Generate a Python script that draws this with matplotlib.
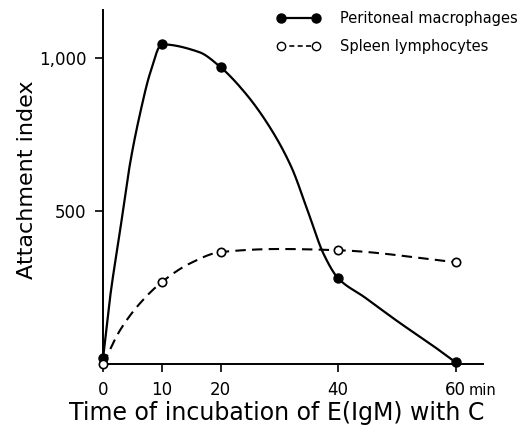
import numpy as np
import matplotlib
matplotlib.use("Agg")
import matplotlib.pyplot as plt
from matplotlib.lines import Line2D

# measured points
t = [0, 10, 20, 40, 60]
macro = [20, 1045, 970, 280, 5]
spleen = [0, 268, 366, 372, 333]

macro_tx = [0, 1.2, 2.9, 4.6, 6.3, 8.0, 10, 16.3, 20, 24, 28, 32, 35,
            37.5, 40, 44.5, 50.2, 55.8, 60]
macro_ty = [20, 220, 438, 657, 820, 951, 1045, 1020, 970, 890, 785, 645, 490,
            360, 280, 218, 138, 64, 5]
spleen_tx = [0, 2.9, 6.3, 10, 14.8, 20, 30, 40, 60]
spleen_ty = [0, 111, 199, 268, 329, 366, 376, 372, 333]


def smooth(x, y, n=30):
    # monotone cubic (Fritsch-Carlson) through the traced points
    x = np.asarray(x, float)
    y = np.asarray(y, float)
    h = np.diff(x)
    d = np.diff(y) / h
    m = np.zeros_like(y)
    m[0], m[-1] = d[0], d[-1]
    for i in range(1, len(x) - 1):
        if d[i - 1] * d[i] > 0:
            w1 = 2*h[i] + h[i - 1]
            w2 = h[i] + 2*h[i - 1]
            m[i] = (w1 + w2) / (w1/d[i - 1] + w2/d[i])
    xs, ys = [], []
    for i in range(len(x) - 1):
        s = np.linspace(0, 1, n)
        h00 = 2*s**3 - 3*s**2 + 1
        h10 = s**3 - 2*s**2 + s
        h01 = -2*s**3 + 3*s**2
        h11 = s**3 - s**2
        xs.append(x[i] + s*h[i])
        ys.append(h00*y[i] + h10*h[i]*m[i] + h01*y[i + 1] + h11*h[i]*m[i + 1])
    return np.concatenate(xs), np.concatenate(ys)


fig = plt.figure(figsize=(5.26, 4.29), dpi=100)
ax = fig.add_axes([0.196, 0.1515, 0.722, 0.825])

mx, my = smooth(macro_tx, macro_ty)
sx, sy = smooth(spleen_tx, spleen_ty)
ax.plot(mx, my, color='black', lw=1.6, clip_on=False)
ax.plot(sx, sy, color='black', lw=1.5, ls=(0, (5, 3)), clip_on=False)
ax.plot(t, macro, 'o', color='black', ms=6.5, clip_on=False, zorder=4)
ax.plot(t, spleen, 'o', mfc='white', mec='black', mew=1.2, ms=6, clip_on=False, zorder=5)

ax.set_xlim(0, 64.6)
ax.set_ylim(0, 1157)
for s in ['top', 'right']:
    ax.spines[s].set_visible(False)
for s in ['left', 'bottom']:
    ax.spines[s].set_linewidth(1.4)

ax.set_xticks([0, 10, 20, 40, 60])
ax.set_xticklabels(['0', '10', '20', '40', '60'])
ax.set_yticks([500, 1000])
ax.set_yticklabels(['500', '1,000'])
ax.tick_params(direction='out', length=6, width=1.2, labelsize=12, pad=6)
ax.annotate('min', xy=(60, 0), xytext=(9, -13.5), textcoords='offset points',
            fontsize=10.5, va='top', ha='left', annotation_clip=False)

ax.set_xlabel('Time of incubation of E(IgM) with C', fontsize=17)
ax.xaxis.set_label_coords(0.458, -0.105)
ax.set_ylabel('Attachment index', fontsize=16)
ax.yaxis.set_label_coords(-0.175, 0.52)

handles = [
    Line2D([], [], color='black', lw=1.6, marker='o', ms=6.5),
    Line2D([], [], color='black', lw=1.2, ls=(0, (3, 2)), marker='o',
           mfc='white', mec='black', ms=6),
]
ax.legend(handles, ['Peritoneal macrophages', 'Spleen lymphocytes'],
          loc='upper left', bbox_to_anchor=(277/526, 1 - 11/429),
          bbox_transform=fig.transFigure, frameon=False, borderpad=0,
          borderaxespad=0, fontsize=10.5, numpoints=2, handlelength=3.0,
          handletextpad=1.3, labelspacing=0.9)

fig.savefig('out.png', dpi=100)
